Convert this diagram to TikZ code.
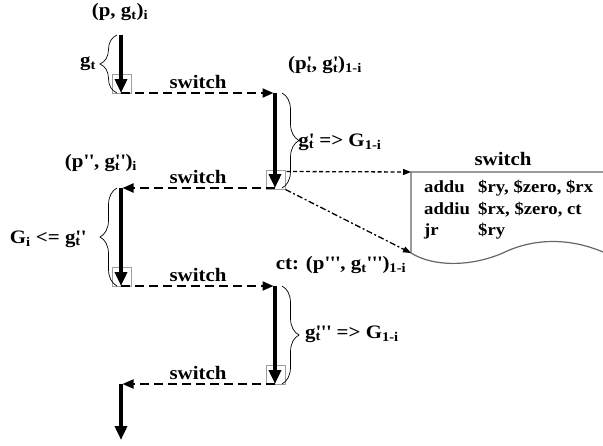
\documentclass[tikz,border=0pt]{standalone}
\usepackage{fontspec}
\setmainfont{Liberation Serif}[FakeStretch=1.1]
\usetikzlibrary{arrows.meta,decorations.pathreplacing}
\newcommand{\pq}{\textquotesingle}
\newcommand{\mysb}[1]{\textsubscript{#1}}
\newcommand{\gsp}[2]{#1\rlap{\mysb{t}}#2}
\begin{document}
\begin{tikzpicture}[x=1pt,y=1pt,
  flow/.style={line width=3.5pt, -{Triangle[length=14pt,width=12pt]}},
  sw/.style={line width=2pt, dash pattern=on 9pt off 5pt, -{Triangle[length=11pt,width=9pt]}},
  lbl/.style={font=\fontsize{19}{22}\selectfont\bfseries, inner sep=0pt},
  codef/.style={font=\fontsize{17}{20}\selectfont\bfseries, inner sep=0pt, anchor=base west},
  sbox/.style={draw=gray!75, line width=1pt, minimum size=19pt, inner sep=0pt},
  br/.style={decorate, decoration={brace, amplitude=17pt}, line width=0.7pt},
  dots/.style={line width=1.3pt, dash pattern=on 4pt off 2.5pt, -{Triangle[length=8pt,width=6pt]}},
  dashdots/.style={line width=1.3pt, dash pattern=on 6pt off 2.5pt on 2pt off 2.5pt, -{Triangle[length=8pt,width=6pt]}},
  frame/.style={draw=gray!80!black, line width=1.2pt}]
\useasboundingbox (0,0) rectangle (603,-445);
% column points
\coordinate (a0) at (121,-35);
\coordinate (a1) at (121,-93);
\coordinate (b1) at (275,-93);
\coordinate (b2) at (275,-188);
\coordinate (a2) at (121,-188);
\coordinate (a3) at (121,-286);
\coordinate (b3) at (275,-286);
\coordinate (b4) at (275,-384);
\coordinate (a4) at (121,-384);
\coordinate (a5) at (121,-440);
% small boxes
\node[sbox] (x1) at (121.5,-84) {};
\node[sbox] (x2) at (275.5,-179.5) {};
\node[sbox] (x3) at (121.5,-276.5) {};
\node[sbox] (x4) at (275.5,-374.5) {};
% thick flows
\draw[flow] (a0) -- (a1);
\draw[flow] (b1) -- (b2);
\draw[flow] (a2) -- (a3);
\draw[flow] (b3) -- (b4);
\draw[flow] (a4) -- (a5);
% switches
\draw[sw, shorten >=1.5pt] (a1) -- node[lbl, above=3pt] (s1) {switch} (b1);
\draw[sw, shorten >=1.5pt] (b2) -- node[lbl, above=3pt] (s2) {switch} (a2);
\draw[sw, shorten >=1.5pt] (a3) -- node[lbl, above=3pt] (s3) {switch} (b3);
\draw[sw, shorten >=1.5pt] (b4) -- node[lbl, above=3pt] (s4) {switch} (a4);
% braces
\draw[br] (117,-93) -- (117,-35);
\draw[br] (282,-93) -- (282,-188);
\draw[br] (117,-286) -- (117,-188);
\draw[br] (282,-286) -- (282,-384);
% labels
\node[lbl] (l1) at (120,-12) {(p, g\mysb{t})\mysb{i}};
\node[lbl] (l2) at (88,-64) {g\mysb{t}};
\node[lbl] (l3) at (325,-65) {(\gsp{p}{\pq}, \gsp{g}{\pq})\mysb{1-i}};
\node[lbl] (l4) at (340,-142) {\gsp{g}{\pq} => G\mysb{1-i}};
\node[lbl] (l5) at (101,-163) {(p\pq\pq, \gsp{g}{\pq\pq})\mysb{i}};
\node[lbl] (l6) at (48,-239) {G\mysb{i} <= \gsp{g}{\pq\pq}};
\node[lbl] (l7) at (341,-265) {ct: (p\pq\pq\pq, g\mysb{t}\pq\pq\pq)\mysb{1-i}};
\node[lbl] (l8) at (352,-334) {\gsp{g}{\pq\pq\pq} => G\mysb{1-i}};
% switch routine box
\coordinate (sb0) at (411,-172);
\coordinate (sb1) at (411,-253);
\coordinate (sb2) at (603,-172);
\coordinate (sb3) at (603,-252);
\draw[frame] (sb2) -- (sb0) -- (sb1) .. controls (435,-268) and (475,-266) .. (505,-252)
  .. controls (535,-238) and (570,-238) .. (sb3);
\node[lbl] (sh) at (503,-159) {switch};
\node[codef] (c1) at (424,-192) {addu};
\node[codef] (c2) at (424,-214) {addiu};
\node[codef] (c3) at (424,-235) {jr};
\node[codef] (d1) at (478,-192) {\$ry, \$zero, \$rx};
\node[codef] (d2) at (478,-214) {\$rx, \$zero, ct};
\node[codef] (d3) at (478,-235) {\$ry};
% links to routine
\draw[dots] (x2.north east) ++(1,-2) coordinate (d0) -- (sb0);
\draw[dashdots] (x2.south east) -- (sb1);
\end{tikzpicture}
\end{document}
